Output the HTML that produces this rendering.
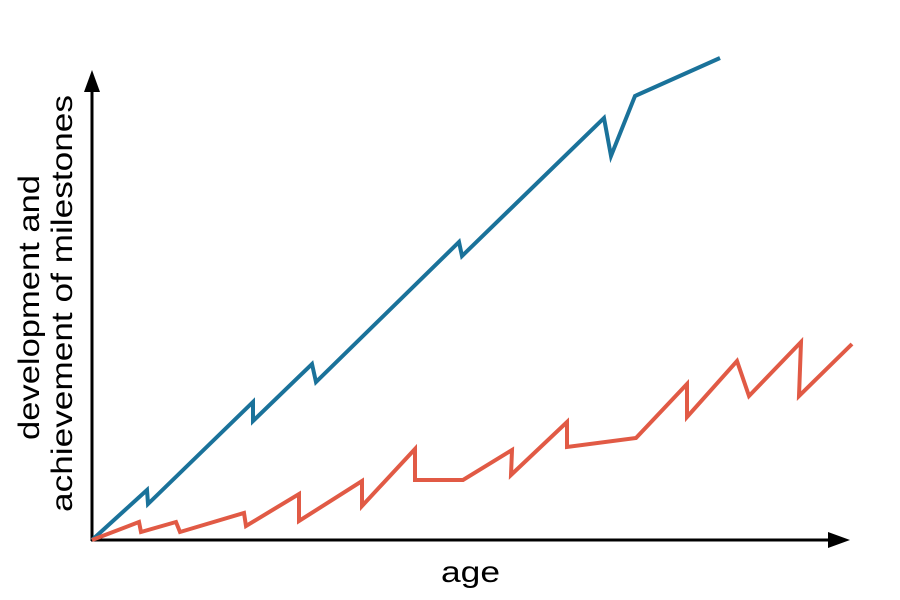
<!DOCTYPE html>
<html><head><style>body{margin:0;background:#fff}svg{display:block}</style></head><body>
<svg width="900" height="600" xmlns="http://www.w3.org/2000/svg" font-family="Liberation Sans, sans-serif">
<line x1="92" y1="541" x2="92" y2="88" stroke="#000" stroke-width="3"/>
<polygon points="92,70 84,92 100,92" fill="#000"/>
<line x1="91" y1="540" x2="832" y2="540" stroke="#000" stroke-width="3"/>
<polygon points="850,540 828,532 828,548" fill="#000"/>
<polyline fill="none" stroke="#1a729a" stroke-width="4" stroke-linejoin="miter" points="92,540 147,490 148,504 253,402 253,421 312,364 316,382 459,242 462,256 604,118 611,156 635,96 720,58"/>
<polyline fill="none" stroke="#e15a45" stroke-width="4" points="92,540 139,522 141,532 176,522 180,532 244,513 246,526 299,494 299,521 362,481 362,506 415,449 415,480 463,480 512,450 511,475 567,422 567,447 636,438 687,384 687,417 737,361 749,396 801,342 799,396 852,344"/>
<text x="441" y="582" font-size="30" textLength="59" lengthAdjust="spacingAndGlyphs">age</text>
<g transform="translate(0,0) rotate(-90)">
<text x="-440" y="39" font-size="30" textLength="265" lengthAdjust="spacingAndGlyphs">development and</text>
<text x="-512" y="72" font-size="30" textLength="417" lengthAdjust="spacingAndGlyphs">achievement of milestones</text>
</g>
</svg>
</body></html>
